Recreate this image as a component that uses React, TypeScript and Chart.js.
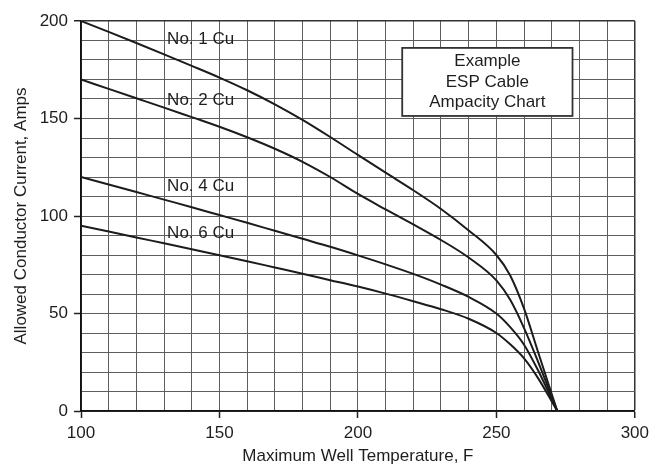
import React, { useEffect, useRef } from "react";
import { Chart, registerables } from "chart.js";

Chart.register(...registerables);

const temps = [100, 110, 120, 130, 140, 150, 160, 170, 180, 190, 200, 210, 220, 230, 240, 250, 255, 260, 265, 272];
const no1 = [200, 194.4, 188.7, 182.9, 177, 171, 164.5, 157.3, 149.3, 140.5, 131.3, 122.2, 113.2, 103.6, 92.6, 80, 69.5, 52.5, 30.5, 0];
const no2 = [170, 165.2, 160.4, 155.6, 150.7, 145.8, 140.4, 134.5, 127.8, 120, 111.3, 103.4, 95.7, 87.7, 78.7, 67, 57, 42.5, 25.5, 0];
const no4 = [120, 116.2, 112.3, 108.4, 104.5, 100.5, 96.5, 92.4, 88.3, 84.2, 79.8, 75.2, 70.3, 64.8, 58.5, 50, 43, 34, 21, 0];
const no6 = [95, 92, 89, 86, 83, 79.9, 76.8, 73.6, 70.4, 67.1, 63.8, 60.2, 56.3, 52.2, 47.3, 40, 34.2, 27, 17, 0];

const seriesNames = ["No. 1 Cu", "No. 2 Cu", "No. 4 Cu", "No. 6 Cu"];
const seriesValues = [no1, no2, no4, no6];
// label anchor (data coords): left temperature, centre current
const labelTemps = [131.1, 131.1, 131.1, 131.1];
const labelAmps = [190.4, 159.5, 115.3, 91.1];

const boxLines = ["Example", "ESP Cable", "Ampacity Chart"];
const boxTemps = [216, 277.5]; // left, right
const boxAmps = [186.2, 151.3]; // top, bottom

const FONT = "'Liberation Sans', Arial, Helvetica, sans-serif";

const annotationPlugin = {
  id: "annotations",
  afterDatasetsDraw(chart: any) {
    const { ctx, scales } = chart;
    const xs = scales.x;
    const ys = scales.y;
    ctx.save();
    ctx.font = `17px ${FONT}`;
    ctx.fillStyle = "#1e1e1e";
    ctx.textAlign = "left";
    ctx.textBaseline = "middle";
    seriesNames.forEach((n, i) => {
      ctx.fillText(n, xs.getPixelForValue(labelTemps[i]), ys.getPixelForValue(labelAmps[i]));
    });
    const l = xs.getPixelForValue(boxTemps[0]);
    const r = xs.getPixelForValue(boxTemps[1]);
    const t = ys.getPixelForValue(boxAmps[0]);
    const b = ys.getPixelForValue(boxAmps[1]);
    ctx.fillStyle = "#fff";
    ctx.fillRect(l, t, r - l, b - t);
    ctx.strokeStyle = "#333";
    ctx.lineWidth = 1.8;
    ctx.strokeRect(l, t, r - l, b - t);
    ctx.fillStyle = "#1e1e1e";
    ctx.textAlign = "center";
    const cx = (l + r) / 2;
    const cy = (t + b) / 2;
    const lh = 20.5;
    boxLines.forEach((s, i) => {
      ctx.fillText(s, cx, cy + (i - (boxLines.length - 1) / 2) * lh);
    });
    ctx.restore();
  },
};

export default function App() {
  const ref = useRef<HTMLCanvasElement>(null);
  useEffect(() => {
    if (!ref.current) return;
    const chart = new Chart(ref.current, {
      type: "line",
      data: {
        datasets: seriesValues.map((vals, i) => ({
          label: seriesNames[i],
          data: temps.map((t, j) => ({ x: t, y: vals[j] })),
          borderColor: "#1c1c1c",
          borderWidth: 2,
          pointRadius: 0,
          fill: false,
          cubicInterpolationMode: "monotone" as const,
        })),
      },
      options: {
        animation: false,
        responsive: false,
        devicePixelRatio: 1,
        layout: { padding: { top: 21, right: 14, left: 0, bottom: 0 } },
        plugins: { legend: { display: false }, tooltip: { enabled: false } },
        scales: {
          x: {
            type: "linear",
            min: 100,
            max: 300,
            afterFit: (s: any) => {
              s.height = 53;
            },
            ticks: {
              stepSize: 10,
              autoSkip: false,
              maxRotation: 0,
              padding: 5,
              color: "#1e1e1e",
              font: { size: 17, family: FONT },
              callback: (v: any) => (Number(v) % 50 === 0 ? String(v) : ""),
            },
            grid: {
              color: (c: any) => (c.tick && c.tick.value === 300 ? "#333" : "#5e5e5e"),
              lineWidth: (c: any) => (c.tick && c.tick.value === 300 ? 1.5 : 1),
              tickLength: 7,
              tickWidth: 1.5,
              tickColor: (c: any) => (c.tick && c.tick.value % 50 === 0 ? "#222" : "rgba(0,0,0,0)"),
            },
            border: { display: true, color: "#111", width: 1.8 },
            title: {
              display: true,
              text: "Maximum Well Temperature, F",
              color: "#1e1e1e",
              font: { size: 17, family: FONT, lineHeight: 1 },
              padding: { top: 0, bottom: -1 },
            },
          },
          y: {
            type: "linear",
            min: 0,
            max: 200,
            afterFit: (s: any) => {
              s.width = 81;
            },
            ticks: {
              stepSize: 10,
              autoSkip: false,
              padding: 6,
              color: "#1e1e1e",
              font: { size: 17, family: FONT },
              callback: (v: any) => (Number(v) % 50 === 0 ? String(v) : ""),
            },
            grid: {
              color: (c: any) => (c.tick && c.tick.value === 200 ? "#333" : "#5e5e5e"),
              lineWidth: (c: any) => (c.tick && c.tick.value === 200 ? 1.5 : 1),
              tickLength: 7,
              tickWidth: 1.5,
              tickColor: (c: any) => (c.tick && c.tick.value % 50 === 0 ? "#222" : "rgba(0,0,0,0)"),
            },
            border: { display: true, color: "#111", width: 1.8 },
            title: {
              display: true,
              text: "Allowed Conductor Current, Amps",
              color: "#1e1e1e",
              font: { size: 17, family: FONT, lineHeight: 1 },
              padding: { top: 13, bottom: 0 },
            },
          },
        },
      },
      plugins: [annotationPlugin],
    });
    return () => chart.destroy();
  }, []);
  return (
    <div style={{ position: "fixed", left: 0, top: 0, width: 654, height: 464, background: "#fff" }}>
      <canvas ref={ref} width={654} height={464} />
    </div>
  );
}
